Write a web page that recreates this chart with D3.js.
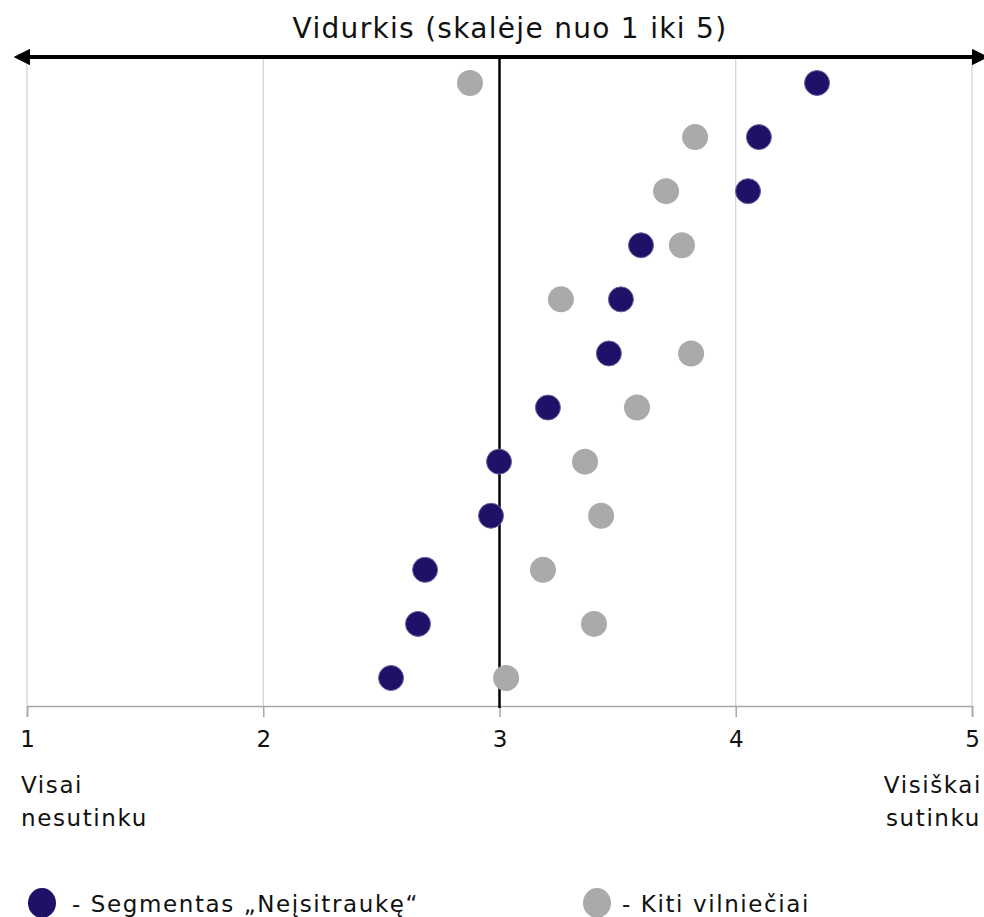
<!DOCTYPE html>
<html><head><meta charset="utf-8">
<script src="https://cdn.jsdelivr.net/npm/d3@7"></script>
<style>body{margin:0;background:#fff}svg{display:block}text{font-family:"DejaVu Sans",sans-serif;fill:#111;letter-spacing:1.6px}</style>
</head><body><svg id="c" width="984" height="917"></svg>
<script>
const rows = [1,2,3,4,5,6,7,8,9,10,11,12];
const segmentValues = [4.344,4.098,4.052,3.599,3.514,3.463,3.205,2.998,2.964,2.685,2.655,2.541];
const othersValues  = [2.875,3.828,3.705,3.772,3.260,3.811,3.582,3.362,3.430,3.184,3.400,3.028];
const tickValues = [1,2,3,4,5];
const title = "Vidurkis (skalėje nuo 1 iki 5)";
const seriesNames = ["- Segmentas „Neįsitraukę“", "- Kiti vilniečiai"];
const colors = ["#1f1068", "#aaaaaa"];

const svg = d3.select("#c");
const x = d3.scaleLinear().domain([1,5]).range([27,972]);
const y = d3.scalePoint().domain(rows).range([83,678]);
const plotTop = 57, plotBottom = 706;

svg.append("g").selectAll("line").data(tickValues).join("line")
  .attr("x1",d=>x(d)).attr("x2",d=>x(d)).attr("y1",plotTop).attr("y2",plotBottom)
  .attr("stroke","#c8c8c8").attr("stroke-width",1);

const ax = svg.append("g").attr("transform",`translate(0,${plotBottom})`)
  .call(d3.axisBottom(x).tickValues(tickValues).tickFormat(d3.format("d")).tickSize(11).tickPadding(14));
ax.select(".domain").attr("stroke","#a6a6a6").attr("stroke-width",1.5);
ax.selectAll(".tick line").attr("stroke","#a6a6a6").attr("stroke-width",1.5);
ax.selectAll(".tick text").attr("font-size",23).attr("font-family","'DejaVu Sans',sans-serif").attr("fill","#111").style("letter-spacing","0px");

svg.append("line").attr("x1",x(3)).attr("x2",x(3)).attr("y1",plotTop).attr("y2",708)
  .attr("stroke","#000").attr("stroke-width",2.5);

const defs = svg.append("defs");
defs.append("marker").attr("id","ah").attr("viewBox","0 0 10 10").attr("refX",2).attr("refY",5)
  .attr("markerWidth",4.2).attr("markerHeight",4.2).attr("orient","auto-start-reverse")
  .append("path").attr("d","M0,0 L10,5 L0,10 z").attr("fill","#000");
svg.append("line").attr("x1",27).attr("x2",975).attr("y1",plotTop).attr("y2",plotTop)
  .attr("stroke","#000").attr("stroke-width",4)
  .attr("marker-start","url(#ah)").attr("marker-end","url(#ah)");

svg.append("text").attr("x",510).attr("y",38).attr("text-anchor","middle")
  .attr("font-size",28).style("letter-spacing","1.3px").text(title);

const r = 13;
svg.append("g").selectAll("circle").data(rows).join("circle")
  .attr("cx",(d,i)=>x(othersValues[i])).attr("cy",d=>y(d)).attr("r",r)
  .attr("fill",colors[1]);
svg.append("g").selectAll("circle").data(rows).join("circle")
  .attr("cx",(d,i)=>x(segmentValues[i])).attr("cy",d=>y(d)).attr("r",r-0.5)
  .attr("fill",colors[0]).attr("stroke","#6a63a0").attr("stroke-width",1);

const lab = svg.append("g").attr("font-size",23);
lab.append("text").attr("x",21).attr("y",793).text("Visai");
lab.append("text").attr("x",21).attr("y",826).text("nesutinku");
lab.append("text").attr("x",982).attr("y",793).attr("text-anchor","end").text("Visiškai");
lab.append("text").attr("x",886).attr("y",826).text("sutinku");

const leg = [{cx:42,tx:72,c:colors[0],t:seriesNames[0]},{cx:597,tx:622,c:colors[1],t:seriesNames[1]}];
const lg = svg.append("g");
lg.selectAll("ellipse").data(leg).join("ellipse")
  .attr("cx",d=>d.cx).attr("cy",903).attr("rx",14).attr("ry",15).attr("fill",d=>d.c);
lg.selectAll("text").data(leg).join("text")
  .attr("x",d=>d.tx).attr("y",912).attr("font-size",23).text(d=>d.t);
</script></body></html>
